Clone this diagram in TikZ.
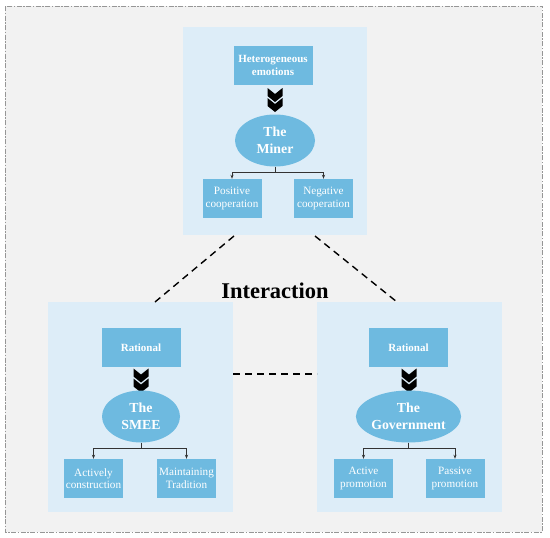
\documentclass[tikz,border=0pt]{standalone}
\usepackage{fontspec}
\setmainfont{Liberation Serif}
\usetikzlibrary{arrows.meta,shapes.geometric,calc}
\definecolor{bgray}{RGB}{242,242,242}
\definecolor{panelblue}{RGB}{221,237,248}
\definecolor{boxblue}{RGB}{110,186,224}
\definecolor{bordergray}{RGB}{150,150,150}
\tikzset{
  x=1pt, y=-1pt,
  panel/.style={draw=none, fill=panelblue, rectangle, inner sep=0pt},
  srcbox/.style={fill=boxblue, rectangle, inner sep=0pt, minimum width=79pt, minimum height=39pt, text=white, align=center, font=\fontsize{11}{13}\selectfont\bfseries},
  leafbox/.style={fill=boxblue, rectangle, inner sep=0pt, minimum width=59pt, minimum height=39pt, text=white, align=center, font=\fontsize{11.2}{12.5}\selectfont},
  actor/.style={fill=boxblue, ellipse, inner sep=0pt, minimum height=52pt, text=white, align=center, font=\fontsize{13.8}{17}\selectfont\bfseries},
  treeline/.style={draw=black!80, line width=0.8pt, -{Stealth[length=4pt,width=3pt]}},
  linkline/.style={draw=black, line width=1.4pt, dash pattern=on 7pt off 5pt},
  dchev/.pic={
    \fill[black] (-7.5,0) -- (0,6) -- (7.5,0) -- (7.5,8) -- (0,14) -- (-7.5,8) -- cycle;
    \fill[black] (-7.5,10) -- (0,16) -- (7.5,10) -- (7.5,18) -- (0,24) -- (-7.5,18) -- cycle;
  }
}
\begin{document}
\begin{tikzpicture}
\useasboundingbox (0,0) rectangle (550,538);
\fill[white] (0,0) rectangle (550,538);
\draw[bordergray, fill=bgray, line width=0.9pt, dash pattern=on 5pt off 1.5pt on 1.5pt off 1.5pt] (5,6) rectangle (542,532);

% panels
\node[panel, minimum width=184pt, minimum height=208pt] (ptop) at (275,131) {};
\node[panel, minimum width=185pt, minimum height=210pt] (pleft) at (140.5,407) {};
\node[panel, minimum width=185pt, minimum height=210pt] (pright) at (409.5,407) {};

% link coordinates
\coordinate (tl) at (234,236);
\coordinate (tr) at (315,236);
\coordinate (lt) at (155,302);
\coordinate (rt) at (397,302);
\coordinate (lr) at (233,374);
\coordinate (rl) at (317,374);
\draw[linkline] (tl) -- (lt);
\draw[linkline] (tr) -- (rt);
\draw[linkline] (lr) -- (rl);

\node[font=\fontsize{22.5}{26}\selectfont\bfseries] (inter) at (275,291) {Interaction};

% top: miner
\node[srcbox] (het) at (273,65.5) {Heterogeneous\\emotions};
\pic at (275,88) {dchev};
\node[actor, minimum width=80pt] (miner) at (275,140.5) {The\\Miner};
\node[leafbox] (pos) at (232,198.5) {Positive\\cooperation};
\node[leafbox] (neg) at (323.5,198.5) {Negative\\cooperation};
\coordinate (mj) at (275,172);
\draw[draw=black!80, line width=0.8pt] (miner.south) -- (mj);
\draw[treeline] (mj) -| (pos.north);
\draw[treeline] (mj) -| (neg.north);

% left: SMEE
\node[srcbox] (ratl) at (141,347.5) {Rational};
\pic at (141,368.5) {dchev};
\node[actor, minimum width=78pt] (smee) at (141,416.5) {The\\SMEE};
\node[leafbox] (act) at (93.5,478.5) {Actively\\construction};
\node[leafbox] (mnt) at (186.5,478.5) {Maintaining\\Tradition};
\coordinate (sj) at (141,448);
\draw[draw=black!80, line width=0.8pt] (smee.south) -- (sj);
\draw[treeline] (sj) -| (act.north);
\draw[treeline] (sj) -| (mnt.north);

% right: Government
\node[srcbox] (ratr) at (408.5,347.5) {Rational};
\pic at (409,368.5) {dchev};
\node[actor, minimum width=97pt] (gov) at (408.5,416.5) {The\\Government};
\node[leafbox] (actp) at (363.5,478.5) {Active\\promotion};
\node[leafbox] (pasp) at (455,478.5) {Passive\\promotion};
\coordinate (gj) at (408.5,448);
\draw[draw=black!80, line width=0.8pt] (gov.south) -- (gj);
\draw[treeline] (gj) -| (actp.north);
\draw[treeline] (gj) -| (pasp.north);
\end{tikzpicture}
\end{document}
